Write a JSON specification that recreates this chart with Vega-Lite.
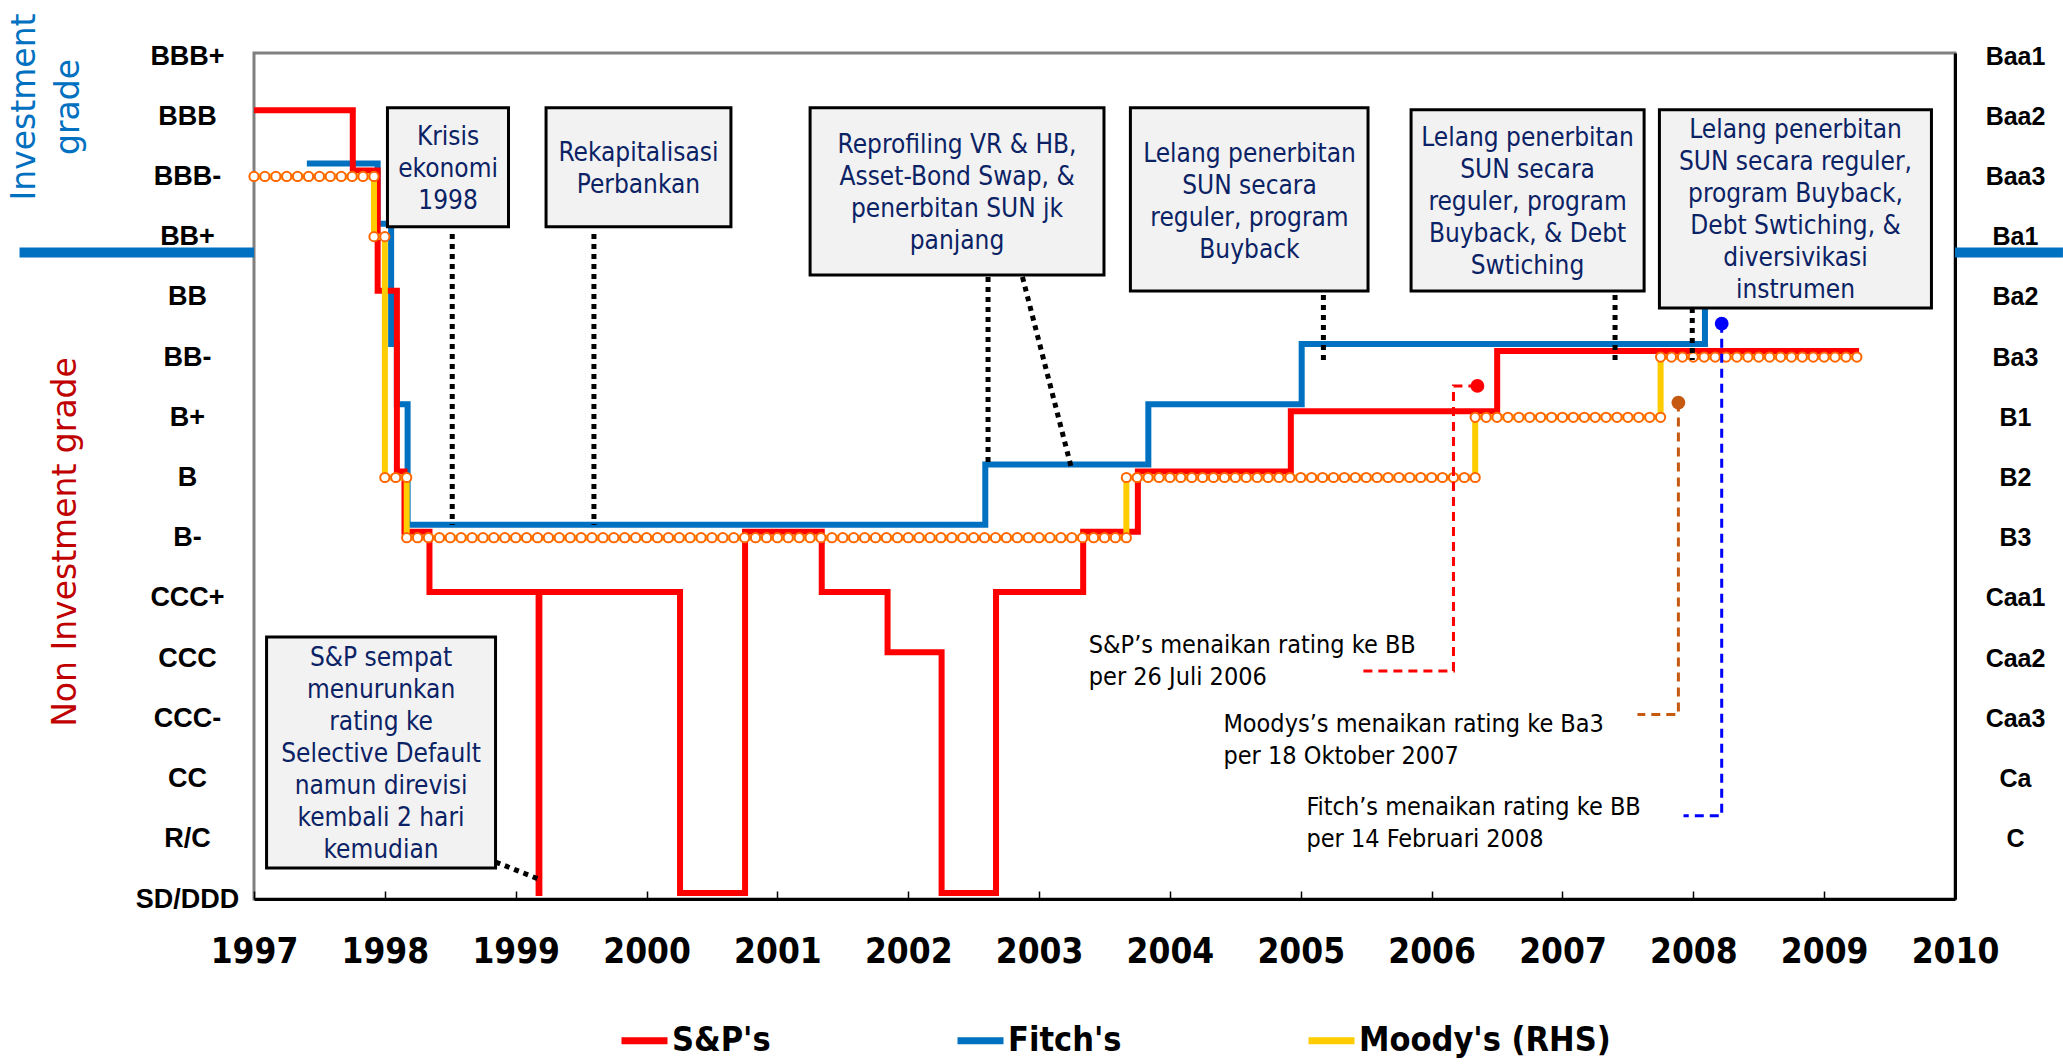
{
  "$schema": "https://vega.github.io/schema/vega-lite/v6.json",
  "width": 1701,
  "height": 846,
  "autosize": {"type": "none"},
  "padding": {"left": 254, "top": 53, "right": 108, "bottom": 165},
  "background": "white",
  "config": {
    "view": {"stroke": "#808080", "strokeWidth": 3},
    "axis": {"grid": false, "labelOverlap": false, "labelFlush": false}
  },
  "datasets": {
    "sp": [
      {"t": 1997.0, "v": 13}, {"t": 1997.755, "v": 12}, {"t": 1997.945, "v": 10}, {"t": 1998.092, "v": 7},
      {"t": 1998.15, "v": 6}, {"t": 1998.341, "v": 5}, {"t": 1999.175, "v": 0}, {"t": 1999.181, "v": 5},
      {"t": 2000.256, "v": 0}, {"t": 2000.753, "v": 6}, {"t": 2001.339, "v": 5}, {"t": 2001.842, "v": 4},
      {"t": 2002.255, "v": 0}, {"t": 2002.671, "v": 5}, {"t": 2003.337, "v": 6}, {"t": 2003.755, "v": 7},
      {"t": 2004.924, "v": 8}, {"t": 2006.501, "v": 9}, {"t": 2009.267, "v": 9}
    ],
    "fitch": [
      {"t": 1997.404, "v": 12}, {"t": 1997.945, "v": 11}, {"t": 1998.048, "v": 9}, {"t": 1998.092, "v": 8},
      {"t": 1998.174, "v": 6}, {"t": 2002.589, "v": 7}, {"t": 2003.835, "v": 8}, {"t": 2005.007, "v": 9},
      {"t": 2008.089, "v": 10}, {"t": 2009.267, "v": 10}
    ],
    "moodys": [
      {"t": 1997.0, "v": 12}, {"t": 1997.083, "v": 12}, {"t": 1997.167, "v": 12}, {"t": 1997.25, "v": 12},
      {"t": 1997.333, "v": 12}, {"t": 1997.417, "v": 12}, {"t": 1997.5, "v": 12}, {"t": 1997.583, "v": 12},
      {"t": 1997.667, "v": 12}, {"t": 1997.75, "v": 12}, {"t": 1997.833, "v": 12}, {"t": 1997.917, "v": 12},
      {"t": 1997.917, "v": 11}, {"t": 1998.0, "v": 11}, {"t": 1998.0, "v": 7}, {"t": 1998.083, "v": 7},
      {"t": 1998.167, "v": 7}, {"t": 1998.167, "v": 6},
      {"t": 1998.25, "v": 6}, {"t": 1998.333, "v": 6}, {"t": 1998.417, "v": 6}, {"t": 1998.5, "v": 6},
      {"t": 1998.583, "v": 6}, {"t": 1998.667, "v": 6}, {"t": 1998.75, "v": 6}, {"t": 1998.833, "v": 6},
      {"t": 1998.917, "v": 6},
      {"t": 1999.0, "v": 6}, {"t": 1999.083, "v": 6}, {"t": 1999.167, "v": 6}, {"t": 1999.25, "v": 6},
      {"t": 1999.333, "v": 6}, {"t": 1999.417, "v": 6}, {"t": 1999.5, "v": 6}, {"t": 1999.583, "v": 6},
      {"t": 1999.667, "v": 6}, {"t": 1999.75, "v": 6}, {"t": 1999.833, "v": 6}, {"t": 1999.917, "v": 6},
      {"t": 2000.0, "v": 6}, {"t": 2000.083, "v": 6}, {"t": 2000.167, "v": 6}, {"t": 2000.25, "v": 6},
      {"t": 2000.333, "v": 6}, {"t": 2000.417, "v": 6}, {"t": 2000.5, "v": 6}, {"t": 2000.583, "v": 6},
      {"t": 2000.667, "v": 6}, {"t": 2000.75, "v": 6}, {"t": 2000.833, "v": 6}, {"t": 2000.917, "v": 6},
      {"t": 2001.0, "v": 6}, {"t": 2001.083, "v": 6}, {"t": 2001.167, "v": 6}, {"t": 2001.25, "v": 6},
      {"t": 2001.333, "v": 6}, {"t": 2001.417, "v": 6}, {"t": 2001.5, "v": 6}, {"t": 2001.583, "v": 6},
      {"t": 2001.667, "v": 6}, {"t": 2001.75, "v": 6}, {"t": 2001.833, "v": 6}, {"t": 2001.917, "v": 6},
      {"t": 2002.0, "v": 6}, {"t": 2002.083, "v": 6}, {"t": 2002.167, "v": 6}, {"t": 2002.25, "v": 6},
      {"t": 2002.333, "v": 6}, {"t": 2002.417, "v": 6}, {"t": 2002.5, "v": 6}, {"t": 2002.583, "v": 6},
      {"t": 2002.667, "v": 6}, {"t": 2002.75, "v": 6}, {"t": 2002.833, "v": 6}, {"t": 2002.917, "v": 6},
      {"t": 2003.0, "v": 6}, {"t": 2003.083, "v": 6}, {"t": 2003.167, "v": 6}, {"t": 2003.25, "v": 6},
      {"t": 2003.333, "v": 6}, {"t": 2003.417, "v": 6}, {"t": 2003.5, "v": 6}, {"t": 2003.583, "v": 6},
      {"t": 2003.667, "v": 6}, {"t": 2003.667, "v": 7},
      {"t": 2003.75, "v": 7}, {"t": 2003.833, "v": 7}, {"t": 2003.917, "v": 7},
      {"t": 2004.0, "v": 7}, {"t": 2004.083, "v": 7}, {"t": 2004.167, "v": 7}, {"t": 2004.25, "v": 7},
      {"t": 2004.333, "v": 7}, {"t": 2004.417, "v": 7}, {"t": 2004.5, "v": 7}, {"t": 2004.583, "v": 7},
      {"t": 2004.667, "v": 7}, {"t": 2004.75, "v": 7}, {"t": 2004.833, "v": 7}, {"t": 2004.917, "v": 7},
      {"t": 2005.0, "v": 7}, {"t": 2005.083, "v": 7}, {"t": 2005.167, "v": 7}, {"t": 2005.25, "v": 7},
      {"t": 2005.333, "v": 7}, {"t": 2005.417, "v": 7}, {"t": 2005.5, "v": 7}, {"t": 2005.583, "v": 7},
      {"t": 2005.667, "v": 7}, {"t": 2005.75, "v": 7}, {"t": 2005.833, "v": 7}, {"t": 2005.917, "v": 7},
      {"t": 2006.0, "v": 7}, {"t": 2006.083, "v": 7}, {"t": 2006.167, "v": 7}, {"t": 2006.25, "v": 7},
      {"t": 2006.333, "v": 7}, {"t": 2006.333, "v": 8},
      {"t": 2006.417, "v": 8}, {"t": 2006.5, "v": 8}, {"t": 2006.583, "v": 8}, {"t": 2006.667, "v": 8},
      {"t": 2006.75, "v": 8}, {"t": 2006.833, "v": 8}, {"t": 2006.917, "v": 8},
      {"t": 2007.0, "v": 8}, {"t": 2007.083, "v": 8}, {"t": 2007.167, "v": 8}, {"t": 2007.25, "v": 8},
      {"t": 2007.333, "v": 8}, {"t": 2007.417, "v": 8}, {"t": 2007.5, "v": 8}, {"t": 2007.583, "v": 8},
      {"t": 2007.667, "v": 8}, {"t": 2007.75, "v": 8}, {"t": 2007.75, "v": 9},
      {"t": 2007.833, "v": 9}, {"t": 2007.917, "v": 9},
      {"t": 2008.0, "v": 9}, {"t": 2008.083, "v": 9}, {"t": 2008.167, "v": 9}, {"t": 2008.25, "v": 9},
      {"t": 2008.333, "v": 9}, {"t": 2008.417, "v": 9}, {"t": 2008.5, "v": 9}, {"t": 2008.583, "v": 9},
      {"t": 2008.667, "v": 9}, {"t": 2008.75, "v": 9}, {"t": 2008.833, "v": 9}, {"t": 2008.917, "v": 9},
      {"t": 2009.0, "v": 9}, {"t": 2009.083, "v": 9}, {"t": 2009.167, "v": 9}, {"t": 2009.25, "v": 9}
    ]
  },
  "encoding": {
    "x": {
      "field": "t", "type": "quantitative",
      "scale": {"domain": [1997, 2010], "nice": false, "zero": false},
      "axis": {
        "values": [1997, 1998, 1999, 2000, 2001, 2002, 2003, 2004, 2005, 2006, 2007, 2008, 2009, 2010],
        "format": "d", "title": null,
        "domainColor": "#000000", "domainWidth": 3,
        "ticks": true, "tickSize": -8, "tickColor": "#000000", "tickWidth": 1.5,
        "labelFont": "DejaVu Sans Condensed, sans-serif",
        "labelFontWeight": "bold", "labelFontSize": 35, "labelColor": "#000000",
        "labelBaseline": "alphabetic", "labelPadding": 71
      }
    },
    "y": {
      "field": "v", "type": "quantitative",
      "scale": {"domain": [0, 14.05], "nice": false, "zero": false},
      "axis": {
        "values": [0, 1, 2, 3, 4, 5, 6, 7, 8, 9, 10, 11, 12, 13, 14],
        "labelExpr": "['SD/DDD','R/C','CC','CCC-','CCC','CCC+','B-','B','B+','BB-','BB','BB+','BBB-','BBB','BBB+'][datum.value]",
        "title": null, "ticks": false, "tickSize": 0, "domain": false,
        "labelAlign": "center", "labelPadding": 67,
        "labelFont": "Liberation Sans, Arial, sans-serif", "labelFontWeight": "bold",
        "labelFontSize": 27, "labelColor": "#000000"
      }
    }
  },
  "layer": [
    {
      "layer": [
        {
          "data": {"name": "fitch"},
          "mark": {"type": "line", "interpolate": "step-after", "strokeWidth": 6, "yOffset": -13},
          "encoding": {"color": {"datum": "Fitch's", "type": "nominal"}}
        },
        {
          "data": {"name": "sp"},
          "mark": {"type": "line", "interpolate": "step-after", "strokeWidth": 6, "yOffset": -6},
          "encoding": {
            "color": {
              "datum": "S&P's", "type": "nominal",
              "scale": {"domain": ["S&P's", "Fitch's", "Moody's (RHS)"], "range": ["#FF0000", "#0070C0", "#FFCC00"]},
              "legend": {
                "orient": "none", "legendX": 364, "legendY": 961, "direction": "horizontal",
                "title": null, "symbolType": "stroke", "symbolSize": 2116, "symbolStrokeWidth": 7,
                "labelFont": "DejaVu Sans Condensed, sans-serif",
                "labelFontWeight": "bold", "labelFontSize": 34, "labelColor": "#000000",
                "columnPadding": 172, "labelOffset": 1, "labelLimit": 500
              }
            }
          }
        },
        {
          "data": {"name": "moodys"},
          "mark": {"type": "line", "strokeWidth": 6},
          "encoding": {
            "color": {"datum": "Moody's (RHS)", "type": "nominal"},
            "order": {"value": null}
          }
        }
      ]
    },
    {
      "encoding": {
        "y": {
          "field": "v", "type": "quantitative",
          "scale": {"domain": [0, 14.05], "nice": false, "zero": false},
          "axis": {
            "orient": "right",
            "values": [1, 2, 3, 4, 5, 6, 7, 8, 9, 10, 11, 12, 13, 14],
            "labelExpr": "['','C','Ca','Caa3','Caa2','Caa1','B3','B2','B1','Ba3','Ba2','Ba1','Baa3','Baa2','Baa1'][datum.value]",
            "title": null, "ticks": false, "tickSize": 0,
            "domainColor": "#000000", "domainWidth": 3,
            "labelAlign": "center", "labelPadding": 60,
            "labelFont": "Liberation Sans, Arial, sans-serif", "labelFontWeight": "bold",
            "labelFontSize": 25, "labelColor": "#000000"
          }
        }
      },
      "layer": [
        {
          "data": {"name": "moodys"},
          "mark": {"type": "point", "shape": "circle", "filled": true, "fill": "#FFFFFF", "stroke": "#FF6600", "strokeWidth": 2, "size": 85, "opacity": 1}
        },
        {
          "data": {"values": [
            {"t": 2006.350, "v": 8.520}, {"t": 2006.167, "v": 8.520}, {"t": 2006.167, "v": 3.787}, {"t": 2005.464, "v": 3.787}
          ]},
          "mark": {"type": "line", "stroke": "#FF0000", "strokeWidth": 3, "strokeDash": [9, 6]},
          "encoding": {"order": {"value": null}}
        },
        {
          "data": {"values": [
            {"t": 2007.886, "v": 8.244}, {"t": 2007.886, "v": 3.064}, {"t": 2007.573, "v": 3.064}
          ]},
          "mark": {"type": "line", "stroke": "#C65911", "strokeWidth": 3, "strokeDash": [9, 6]},
          "encoding": {"order": {"value": null}}
        },
        {
          "data": {"values": [
            {"t": 2008.217, "v": 9.555}, {"t": 2008.217, "v": 1.383}, {"t": 2007.925, "v": 1.383}
          ]},
          "mark": {"type": "line", "stroke": "#0000FF", "strokeWidth": 3, "strokeDash": [9, 6]},
          "encoding": {"order": {"value": null}}
        },
        {
          "data": {"values": [{"t": 2006.350, "v": 8.520}]},
          "mark": {"type": "point", "shape": "circle", "filled": true, "color": "#FF0000", "size": 190, "opacity": 1}
        },
        {
          "data": {"values": [{"t": 2007.886, "v": 8.244}]},
          "mark": {"type": "point", "shape": "circle", "filled": true, "color": "#C65911", "size": 190, "opacity": 1}
        },
        {
          "data": {"values": [{"t": 2008.217, "v": 9.555}]},
          "mark": {"type": "point", "shape": "circle", "filled": true, "color": "#0000FF", "size": 190, "opacity": 1}
        },
        {
          "data": {"values": [
            {"t": 1998.515, "v": 11.045, "t2": 1998.515, "v2": 6.212},
            {"t": 1999.598, "v": 11.045, "t2": 1999.598, "v2": 6.212},
            {"t": 2002.610, "v": 10.331, "t2": 2002.610, "v2": 7.174},
            {"t": 2002.873, "v": 10.331, "t2": 2003.245, "v2": 7.175},
            {"t": 2005.173, "v": 10.032, "t2": 2005.173, "v2": 8.952},
            {"t": 2007.402, "v": 10.032, "t2": 2007.402, "v2": 8.952},
            {"t": 2007.992, "v": 9.816, "t2": 2007.992, "v2": 8.952},
            {"t": 1998.846, "v": 0.615, "t2": 1999.174, "v2": 0.332}
          ]},
          "mark": {"type": "rule", "stroke": "#000000", "strokeWidth": 5, "strokeDash": [5, 5]},
          "encoding": {"x2": {"field": "t2"}, "y2": {"field": "v2"}}
        },
        {
          "data": {"values": [
            {"t": 1998.020, "t2": 1998.945, "v": 13.140, "v2": 11.164},
            {"t": 1999.232, "t2": 2000.645, "v": 13.140, "v2": 11.164},
            {"t": 2001.250, "t2": 2003.496, "v": 13.140, "v2": 10.364},
            {"t": 2003.698, "t2": 2005.514, "v": 13.140, "v2": 10.098},
            {"t": 2005.843, "t2": 2007.624, "v": 13.107, "v2": 10.098},
            {"t": 2007.741, "t2": 2009.820, "v": 13.107, "v2": 9.816},
            {"t": 1997.096, "t2": 1998.846, "v": 4.352, "v2": 0.515}
          ]},
          "mark": {"type": "rect", "fill": "#F2F2F2", "stroke": "#000000", "strokeWidth": 3},
          "encoding": {"x2": {"field": "t2"}, "y2": {"field": "v2"}}
        },
        {
          "data": {"values": [
            {"t": 1998.483, "v": 12.661, "label": "Krisis\nekonomi\n1998"},
            {"t": 1999.938, "v": 12.390, "label": "Rekapitalisasi\nPerbankan"},
            {"t": 2002.373, "v": 12.522, "label": "Reprofiling VR & HB,\nAsset-Bond Swap, &\npenerbitan SUN jk\npanjang"},
            {"t": 2004.608, "v": 12.373, "label": "Lelang penerbitan\nSUN secara\nreguler, program\nBuyback"},
            {"t": 2006.733, "v": 12.639, "label": "Lelang penerbitan\nSUN secara\nreguler, program\nBuyback, & Debt\nSwtiching"},
            {"t": 2008.781, "v": 12.772, "label": "Lelang penerbitan\nSUN secara reguler,\nprogram Buyback,\nDebt Swtiching, &\ndiversivikasi\ninstrumen"},
            {"t": 1997.971, "v": 4.003, "label": "S&P sempat\nmenurunkan\nrating ke\nSelective Default\nnamun direvisi\nkembali 2 hari\nkemudian"}
          ]},
          "mark": {"type": "text", "align": "center", "baseline": "middle", "lineBreak": "\n", "lineHeight": 32,
                   "font": "DejaVu Sans Condensed, sans-serif", "fontSize": 26, "color": "#0B2265"},
          "encoding": {"text": {"field": "label"}}
        },
        {
          "data": {"values": [
            {"t": 2003.380, "v": 4.219, "label": "S&P’s menaikan rating ke BB\nper 26 Juli 2006"},
            {"t": 2004.409, "v": 2.913, "label": "Moodys’s menaikan rating ke Ba3\nper 18 Oktober 2007"},
            {"t": 2005.043, "v": 1.536, "label": "Fitch’s menaikan rating ke BB\nper 14 Februari 2008"}
          ]},
          "mark": {"type": "text", "align": "left", "baseline": "middle", "lineBreak": "\n", "lineHeight": 32,
                   "font": "DejaVu Sans Condensed, sans-serif", "fontSize": 25, "color": "#000000"},
          "encoding": {"text": {"field": "label"}}
        },
        {
          "data": {"values": [
            {"t": 1995.330, "v": 13.154, "label": "Investment"},
            {"t": 1995.660, "v": 13.154, "label": "grade"}
          ]},
          "mark": {"type": "text", "angle": 270, "align": "center", "baseline": "alphabetic",
                   "font": "DejaVu Sans, sans-serif", "fontSize": 33, "color": "#0070C0"},
          "encoding": {"text": {"field": "label"}}
        },
        {
          "data": {"values": [
            {"t": 1995.643, "v": 5.929, "label": "Non Investment grade"}
          ]},
          "mark": {"type": "text", "angle": 270, "align": "center", "baseline": "alphabetic",
                   "font": "DejaVu Sans, sans-serif", "fontSize": 33, "color": "#C00000"},
          "encoding": {"text": {"field": "label"}}
        },
        {
          "data": {"values": [
            {"t": 1995.208, "t2": 1997.0, "v": 10.736},
            {"t": 2010.0, "t2": 2010.825, "v": 10.736}
          ]},
          "mark": {"type": "rule", "stroke": "#0070C0", "strokeWidth": 10},
          "encoding": {"x2": {"field": "t2"}}
        }
      ]
    }
  ],
  "resolve": {"axis": {"y": "independent"}}
}
